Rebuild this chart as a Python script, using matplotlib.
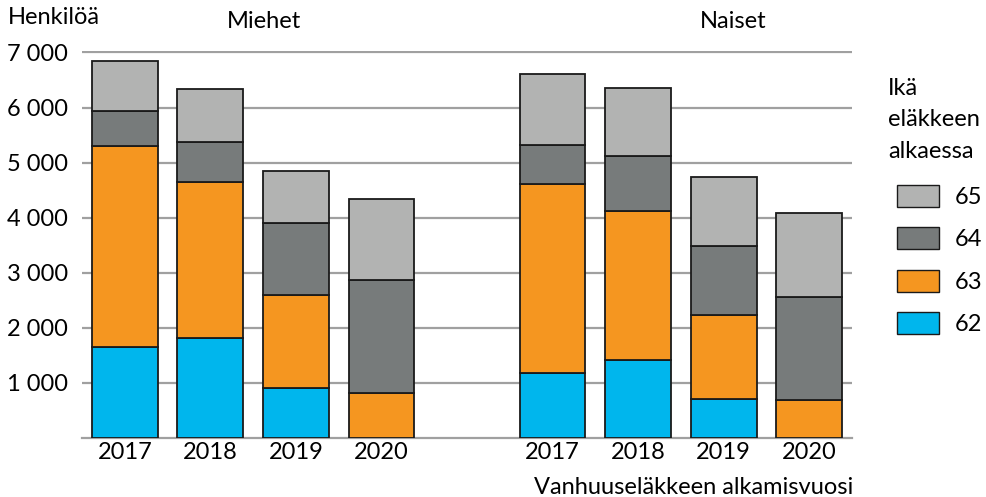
import matplotlib
matplotlib.use("Agg")
import matplotlib.pyplot as plt
import numpy as np

plt.rcParams['font.family'] = ['Lato', 'DejaVu Sans']

years = ["2017", "2018", "2019", "2020"]
groups = ["Miehet", "Naiset"]
ages = ["62", "63", "64", "65"]
colors = ["#00b6ed", "#f59620", "#777b7b", "#b2b3b2"]

men = {
    "62": [1655, 1820, 915, 0],
    "63": [3645, 2830, 1675, 820],
    "64": [630, 720, 1310, 2050],
    "65": [910, 960, 940, 1470],
}
women = {
    "62": [1180, 1420, 715, 0],
    "63": [3440, 2710, 1525, 690],
    "64": [700, 990, 1250, 1870],
    "65": [1290, 1230, 1250, 1530],
}

FS = 17
YTOP = 7030
px_per_unit = (438 - 52.5) / 7000
top_px = 438 - YTOP * px_per_unit

fig = plt.figure(figsize=(9.87, 4.97), dpi=100)
ax = fig.add_axes([82/987, 1-438/497, (852-82)/987, (438-top_px)/497])

pos_men = np.arange(4)
pos_women = np.arange(4) + 5
width = 0.77

handles = []
for data, pos in ((men, pos_men), (women, pos_women)):
    bottom = np.zeros(4)
    for age, col in zip(ages, colors):
        vals = np.array(data[age], dtype=float)
        b = ax.bar(pos, vals, width, bottom=bottom, color=col,
                   edgecolor="#1a1a1a", linewidth=1.3, zorder=3, label=age)
        bottom += vals
        if pos is pos_men:
            handles.append(b)

ax.set_xlim(-0.5, 8.5)
ax.set_ylim(0, YTOP)
ax.set_yticks(np.arange(1000, 8000, 1000))
ax.set_yticklabels([f"{v:,}".replace(",", " ") for v in range(1000, 8000, 1000)], fontsize=FS)
ax.yaxis.grid(True, color="#a0a0a0", linewidth=1.6, zorder=0)
ax.set_axisbelow(True)
for s in ["left", "right", "top"]:
    ax.spines[s].set_visible(False)
ax.spines["bottom"].set_color("#a0a0a0")
ax.spines["bottom"].set_linewidth(1.6)
ax.tick_params(axis="y", length=0, pad=10)
ax.tick_params(axis="x", length=0, pad=3)
ax.set_xticks(np.concatenate([pos_men, pos_women]))
ax.set_xticklabels(years + years, fontsize=FS)

fig.text(8/987, 1-18/497, "Henkilöä", fontsize=FS, ha="left", va="center")
fig.text(264/987, 1-22/497, groups[0], fontsize=FS, ha="center", va="center")
fig.text(733/987, 1-22/497, groups[1], fontsize=FS, ha="center", va="center")
fig.text(853/987, 1-487/497, "Vanhuuseläkkeen alkamisvuosi", fontsize=FS,
         ha="right", va="center")

fig.text(888/987, 1-120/497, "Ikä\neläkkeen\nalkaessa", fontsize=FS,
         ha="left", va="center", linespacing=1.6)

leg = fig.legend(handles[::-1], ages[::-1],
                 loc="upper left", bbox_to_anchor=(897/987, 1-185/497),
                 frameon=False, fontsize=FS,
                 handlelength=1.8, handleheight=1.05, labelspacing=0.82,
                 handletextpad=0.65, borderpad=0, borderaxespad=0)
for h in leg.legend_handles:
    h.set_linewidth(1.0)

fig.savefig("out.png", dpi=100)
